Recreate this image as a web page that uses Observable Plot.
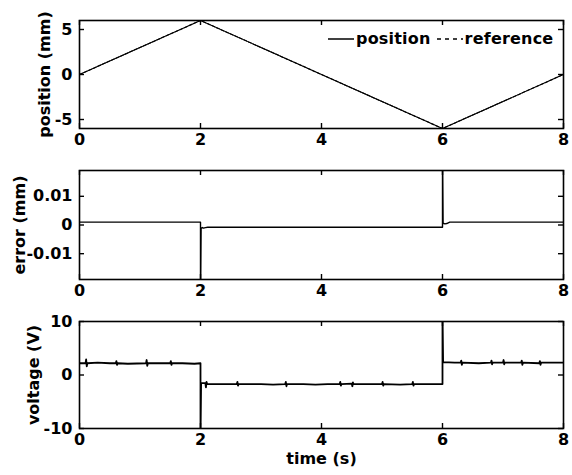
<!DOCTYPE html>
<html><head><meta charset="utf-8">
<script src="https://cdn.jsdelivr.net/npm/d3@7"></script>
<script src="https://cdn.jsdelivr.net/npm/@observablehq/plot@0.6"></script>
<style>
body{margin:0;background:#fff;}
#chart{position:relative;width:572px;height:475px;font-family:"DejaVu Sans";font-weight:bold;color:#000;}
#chart svg{display:block;}
.legend{position:absolute;left:328px;top:29px;display:flex;align-items:center;font-size:16px;line-height:20px;letter-spacing:0.2px;}
.legend svg{display:inline-block!important;}
</style></head><body><div id="chart"></div>
<script>
// ---- data ----
const xTicks = [0, 2, 4, 6, 8];
const positionTime = [0, 2, 6, 8];
const positionValues = [0, 6, -6, 0];
const referenceTime = [0, 2, 6, 8];
const referenceValues = [0, 6, -6, 0];
const positionTicks = [-5, 0, 5];

const errorTime = [0, 2, 2, 2.01, 2.03, 2.05, 2.08, 2.12, 6, 6, 6.01, 6.04, 6.07, 6.12, 8];
const errorValues = [0.001, 0.001, -0.03, -0.0012, -0.0009, -0.0011, -0.0009, -0.0008, -0.0008, 0.03, 0.0006, 0.0004, 0.0005, 0.001, 0.001];
const errorTicks = [-0.01, 0, 0.01];

const voltageTime = [
  0, 0.1, 0.11, 0.12, 0.13, 0.3, 0.5, 0.6, 0.61, 0.62, 0.63, 0.8, 1.1, 1.11, 1.12, 1.13, 1.3, 1.5, 1.51, 1.52, 1.53, 1.7, 1.9, 2,
  2, 2.01, 2.08, 2.09, 2.1, 2.11, 2.4, 2.6, 2.61, 2.62, 2.63, 3.0, 3.2, 3.4, 3.41, 3.42, 3.43, 3.7, 3.9, 4.1, 4.3, 4.31, 4.32, 4.33,
  4.5, 4.51, 4.52, 4.53, 4.8, 5.0, 5.01, 5.02, 5.03, 5.3, 5.5, 5.51, 5.52, 5.53, 5.8, 6,
  6, 6.01, 6.2, 6.3, 6.31, 6.32, 6.33, 6.6, 6.8, 6.81, 6.82, 6.83, 7, 7.01, 7.02, 7.03, 7.3, 7.31, 7.32, 7.33, 7.6, 7.61, 7.62, 7.63, 7.8, 8
];
const voltageValues = [
  2.2, 2.2, 2.9, 1.6, 2.2, 2.3, 2.2, 2.2, 2.6, 1.9, 2.2, 2.1, 2.2, 2.8, 1.7, 2.2, 2.2, 2.2, 2.6, 1.9, 2.2, 2.2, 2.1, 2.2,
  -12, -1.5, -1.5, -2.3, -1.3, -1.7, -1.7, -1.7, -1.3, -2.0, -1.7, -1.7, -1.8, -1.7, -1.3, -2.1, -1.7, -1.7, -1.8, -1.7, -1.7, -1.3, -2.0, -1.7,
  -1.6, -2.1, -1.4, -1.7, -1.7, -1.7, -1.3, -2.0, -1.7, -1.8, -1.7, -1.3, -2.0, -1.7, -1.7, -1.7,
  12, 2.4, 2.3, 2.3, 2.7, 1.9, 2.3, 2.2, 2.3, 2.7, 2.0, 2.3, 2.3, 2.8, 2.0, 2.3, 2.3, 2.7, 1.9, 2.3, 2.2, 2.6, 1.9, 2.3, 2.3, 2.3
];
const voltageTicks = [-10, 0, 10];

const legendLabels = ["position", "reference"];

// ---- drawing ----
const W = 572, ML = 79, MR = 9;
const innerW = W - ML - MR;
const font = {fontFamily: "DejaVu Sans", fontWeight: "bold", fontSize: "16px", color: "black", background: "white", overflow: "visible"};

function zip(t, v) { return t.map((d, i) => ({t: d, v: v[i]})); }

function panel({height, mt, mb, yDomain, yTicks, yLabel, yLabelDx, series, xLabel}) {
  const innerH = height - mt - mb;
  const marks = [
    ...series,
    Plot.frame({stroke: "black", strokeWidth: 1.6}),
    Plot.tickX(xTicks, {x: d => d, insetTop: innerH - 5, stroke: "black", strokeWidth: 1.4}),
    Plot.tickX(xTicks, {x: d => d, insetBottom: innerH - 5, stroke: "black", strokeWidth: 1.4}),
    Plot.tickY(yTicks, {y: d => d, insetRight: innerW - 5, stroke: "black", strokeWidth: 1.4}),
    Plot.tickY(yTicks, {y: d => d, insetLeft: innerW - 5, stroke: "black", strokeWidth: 1.4}),
    Plot.axisX({ticks: xTicks, tickSize: 0, tickPadding: 5, label: null, tickFormat: d => String(d)}),
    Plot.axisY({ticks: yTicks, tickSize: 0, tickPadding: 7, label: null, tickFormat: d => String(d)}),
    Plot.text([yLabel], {text: d => d, frameAnchor: "left", dx: yLabelDx, rotate: -90, textAnchor: "middle", lineAnchor: "middle", fill: "black"})
  ];
  if (xLabel) marks.push(Plot.text([xLabel], {text: d => d, frameAnchor: "bottom", dy: 35, textAnchor: "middle", fill: "black"}));
  return Plot.plot({
    width: W, height, marginLeft: ML, marginRight: MR, marginTop: mt, marginBottom: mb,
    style: font,
    x: {domain: [0, 8], axis: null},
    y: {domain: yDomain, axis: null},
    marks
  });
}

const chart = document.getElementById("chart");

chart.append(panel({
  height: 150, mt: 20, mb: 22, yDomain: [-6, 6], yTicks: positionTicks,
  yLabel: "position (mm)", yLabelDx: -35,
  series: [
    Plot.line(zip(referenceTime, referenceValues), {x: "t", y: "v", stroke: "black", strokeWidth: 1.1, strokeDasharray: "3,2", clip: true}),
    Plot.line(zip(positionTime, positionValues), {x: "t", y: "v", stroke: "black", strokeWidth: 1.1, clip: true})
  ]
}));

chart.append(panel({
  height: 150, mt: 20, mb: 21, yDomain: [-0.019, 0.019], yTicks: errorTicks,
  yLabel: "error (mm)", yLabelDx: -60,
  series: [
    Plot.line(zip(errorTime, errorValues), {x: "t", y: "v", stroke: "black", strokeWidth: 1.4, clip: true})
  ]
}));

chart.append(panel({
  height: 175, mt: 21, mb: 47, yDomain: [-10, 10], yTicks: voltageTicks,
  yLabel: "voltage (V)", yLabelDx: -46, xLabel: "time (s)",
  series: [
    Plot.line(zip(voltageTime, voltageValues), {x: "t", y: "v", stroke: "black", strokeWidth: 1.8, clip: true})
  ]
}));

// legend (boxless, top-right of first panel)
const legend = document.createElement("div");
legend.className = "legend";
const dashes = ["none", "4,4"];
legendLabels.forEach((label, i) => {
  const ns = "http://www.w3.org/2000/svg";
  const s = document.createElementNS(ns, "svg");
  s.setAttribute("width", 26); s.setAttribute("height", 10);
  s.style.marginLeft = i ? "6px" : "0";
  const l = document.createElementNS(ns, "line");
  l.setAttribute("x1", 0); l.setAttribute("x2", 26); l.setAttribute("y1", 5); l.setAttribute("y2", 5);
  l.setAttribute("stroke", "black"); l.setAttribute("stroke-width", 1.5);
  if (dashes[i] !== "none") l.setAttribute("stroke-dasharray", dashes[i]);
  s.append(l);
  const span = document.createElement("span");
  span.textContent = label;
  span.style.marginLeft = "2px";
  legend.append(s, span);
});
chart.append(legend);
</script></body></html>
